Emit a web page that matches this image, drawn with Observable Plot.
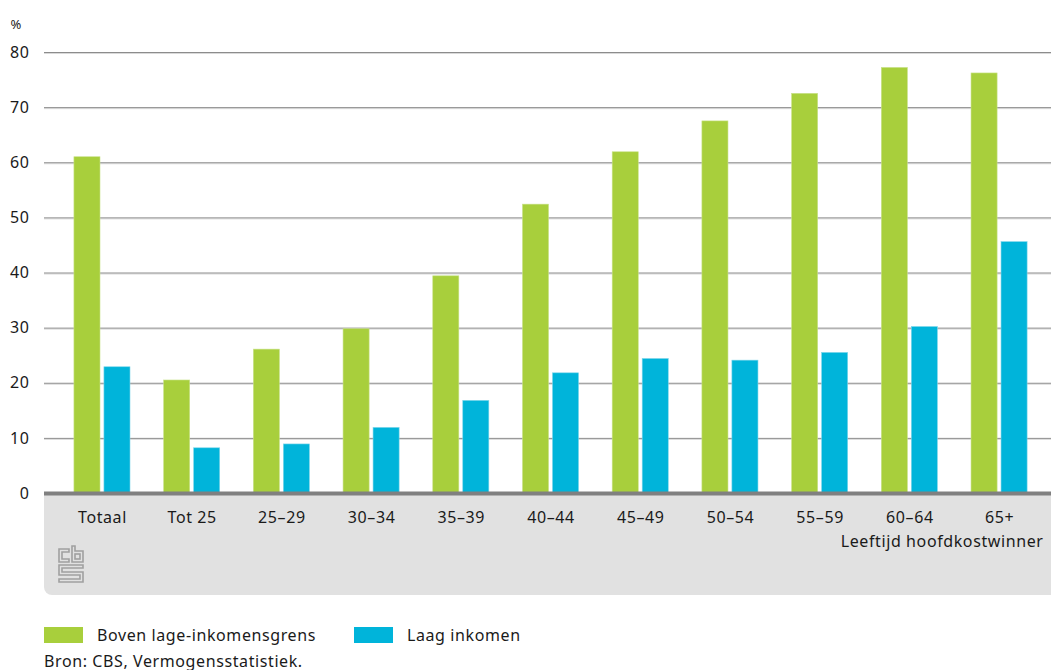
<!DOCTYPE html>
<html>
<head>
<meta charset="utf-8">
<script src="https://cdn.jsdelivr.net/npm/d3@7"></script>
<script src="https://cdn.jsdelivr.net/npm/@observablehq/plot@0.6"></script>
<style>
  body { margin: 0; background: #fff; font-family: "Noto Sans", sans-serif; }
  #wrap { position: relative; width: 1051px; height: 670px; }
  #panel { position: absolute; left: 44px; top: 495px; width: 1007px; height: 100px; background: #e1e1e1; border-bottom-left-radius: 8px; }
  #logo { position: absolute; left: 14px; top: 50px; }
  #chart { position: absolute; left: 0; top: 0; }
  #legend { position: absolute; left: 44px; top: 624px; font-size: 16px; color: #1a1a1a; letter-spacing: 0.6px; display: flex; }
  .item { display: flex; align-items: center; margin-right: 38px; }
  .sw { width: 39px; height: 16px; margin-right: 14px; }
  #source { position: absolute; left: 44px; top: 650px; font-size: 16px; color: #1a1a1a; letter-spacing: 0.6px; }
</style>
</head>
<body>
<div id="wrap">
  <div id="panel">
    <svg id="logo" width="28" height="40" viewBox="0 0 28 40" fill="none" stroke="#a0a0a0" stroke-width="1.6">
      <path d="M1 4 H11 V7 H4 V14 H11 V17 H1 Z"/>
      <path d="M14 1 H17 V6 H25 V17 H14 Z"/>
      <rect x="17" y="9" width="5" height="5"/>
      <path d="M1 20 H25 V23 H4 V27 H25 V37 H1 V34 H22 V30 H1 Z"/>
    </svg>
  </div>
  <div id="chart"></div>
  <div id="legend"></div>
  <div id="source">Bron: CBS, Vermogensstatistiek.</div>
</div>
<script>
const categories = ["Totaal", "Tot 25", "25–29", "30–34", "35–39", "40–44", "45–49", "50–54", "55–59", "60–64", "65+"];
const seriesNames = ["Boven lage-inkomensgrens", "Laag inkomen"];
const boven = [61.0, 20.5, 26.1, 29.8, 39.4, 52.4, 61.9, 67.5, 72.5, 77.2, 76.2];
const laag = [22.9, 8.2, 8.9, 11.9, 16.8, 21.8, 24.4, 24.1, 25.5, 30.2, 45.6];
const yTicks = [0, 10, 20, 30, 40, 50, 60, 70, 80];
const colors = ["#a8cf3c", "#00b4da"];

const dataBoven = categories.map((c, i) => ({category: c, series: seriesNames[0], value: boven[i]}));
const dataLaag = categories.map((c, i) => ({category: c, series: seriesNames[1], value: laag[i]}));

const font = "Noto Sans, sans-serif";

const chart = Plot.plot({
  width: 1051,
  height: 600,
  marginTop: 52,
  marginBottom: 107,
  marginLeft: 44,
  marginRight: 0,
  style: {background: "transparent", fontFamily: font, fontSize: "16px", color: "#1a1a1a", letterSpacing: "0.6px"},
  x: {domain: categories, paddingInner: 0.375, paddingOuter: 0.3, align: 0.556, round: false, label: null},
  y: {domain: [0, 80], label: null},
  marks: [
    Plot.ruleY(yTicks.filter(d => d > 0), {stroke: "#d9d9d9", strokeWidth: 1, dy: 1}),
    Plot.ruleY(yTicks.filter(d => d > 0), {stroke: "#8c8c8c", strokeWidth: 1}),
    Plot.barY(dataBoven, {x: "category", y: "value", fill: colors[0], insetRight: 30, stroke: "#c9e28a", strokeWidth: 0.6}),
    Plot.barY(dataLaag, {x: "category", y: "value", fill: colors[1], insetLeft: 30, stroke: "#7fd6ea", strokeWidth: 0.6}),
    Plot.ruleY([0], {stroke: "#808080", strokeWidth: 4}),
    Plot.axisY({ticks: yTicks, tickSize: 0, tickPadding: 15, label: null, fontSize: 16}),
    Plot.axisX({tickSize: 0, tickPadding: 18, label: null, fontSize: 16}),
    Plot.text(["Leeftijd hoofdkostwinner"], {frameAnchor: "bottom-right", dx: -8, dy: 53, textAnchor: "end", fontSize: 16}),
    Plot.text(["%"], {frameAnchor: "top-left", dx: -34, dy: -33, textAnchor: "start", fontSize: 13})
  ]
});
document.getElementById("chart").appendChild(chart);

const legend = document.getElementById("legend");
seriesNames.forEach((name, i) => {
  const item = document.createElement("div");
  item.className = "item";
  const sw = document.createElement("div");
  sw.className = "sw";
  sw.style.background = colors[i];
  const label = document.createElement("span");
  label.textContent = name;
  item.appendChild(sw);
  item.appendChild(label);
  legend.appendChild(item);
});
</script>
</body>
</html>
